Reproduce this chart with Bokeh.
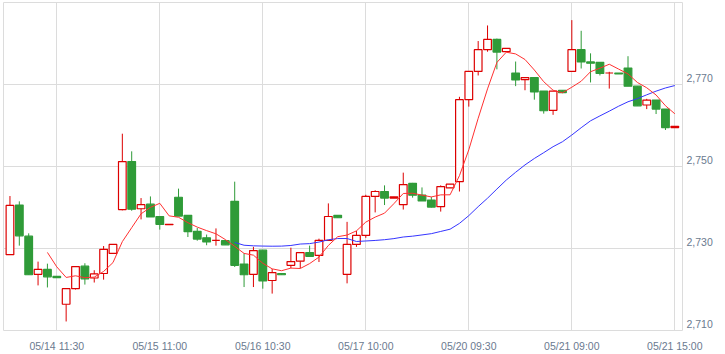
import pandas as pd
from bokeh.plotting import figure
from bokeh.models import (ColumnDataSource, FixedTicker, Range1d, LinearAxis,
                          NumeralTickFormatter)
from bokeh.embed import file_html
from bokeh.resources import INLINE

opens = [2728.5, 2740.6, 2733.0, 2723.7, 2724.9, 2723.2, 2716.4, 2720.2, 2725.7, 2722.8,
         2723.9, 2728.8, 2739.5, 2751.2, 2739.7, 2740.8, 2737.8, 2735.8, 2742.5, 2738.1,
         2734.2, 2732.6, 2732.0, 2731.9, 2741.5, 2726.2, 2723.7, 2729.6, 2722.2, 2723.9,
         2725.9, 2726.9, 2729.0, 2728.3, 2732.0, 2738.1, 2723.7, 2731.0, 2733.2, 2742.7,
         2743.9, 2742.3, 2740.7, 2745.9, 2743.0, 2741.8, 2740.2, 2744.8, 2746.3, 2766.3,
         2773.2, 2778.5, 2781.0, 2778.0, 2772.8, 2771.2, 2771.7, 2768.4, 2763.7, 2768.6,
         2773.2, 2778.5, 2775.5, 2775.4, 2772.8, 2772.8, 2774.0, 2769.6, 2765.0, 2766.2,
         2764.0, 2759.5]
highs = [2742.8, 2741.5, 2733.7, 2726.8, 2726.3, 2723.2, 2720.2, 2725.6, 2726.4, 2724.7,
         2730.6, 2731.0, 2758.0, 2753.7, 2742.3, 2742.7, 2737.8, 2735.9, 2744.6, 2738.1,
         2735.0, 2733.4, 2734.9, 2731.9, 2746.3, 2728.8, 2730.4, 2729.6, 2725.0, 2723.9,
         2730.2, 2729.0, 2730.7, 2732.4, 2741.0, 2738.1, 2736.5, 2734.3, 2743.1, 2744.2,
         2745.4, 2742.6, 2748.5, 2746.0, 2744.9, 2742.6, 2745.4, 2745.7, 2767.0, 2773.2,
         2780.6, 2784.4, 2781.2, 2778.8, 2775.6, 2771.7, 2771.7, 2768.4, 2768.4, 2768.6,
         2785.7, 2783.1, 2777.6, 2775.4, 2773.1, 2772.8, 2776.9, 2769.6, 2766.5, 2766.2,
         2764.0, 2759.8]
lows = [2728.5, 2730.7, 2723.6, 2721.0, 2720.5, 2722.9, 2712.2, 2720.0, 2721.2, 2721.7,
        2722.4, 2728.8, 2739.3, 2739.2, 2737.1, 2737.7, 2734.6, 2735.8, 2737.9, 2732.8,
        2731.9, 2730.8, 2730.7, 2730.9, 2725.5, 2720.6, 2720.6, 2720.2, 2719.0, 2723.6,
        2725.2, 2725.2, 2728.1, 2726.7, 2732.0, 2737.5, 2721.5, 2730.4, 2732.6, 2738.8,
        2740.6, 2742.3, 2739.5, 2742.4, 2741.6, 2740.0, 2739.0, 2744.8, 2743.9, 2764.6,
        2772.2, 2778.0, 2773.7, 2778.0, 2769.6, 2768.6, 2766.3, 2762.9, 2762.6, 2768.0,
        2773.2, 2773.9, 2770.5, 2772.2, 2769.0, 2772.6, 2769.6, 2764.8, 2764.0, 2762.8,
        2758.9, 2759.5]
closes = [2740.5, 2733.1, 2723.6, 2724.9, 2723.1, 2722.9, 2720.2, 2725.6, 2722.6, 2723.8,
          2729.8, 2731.0, 2751.2, 2739.6, 2740.7, 2737.7, 2735.9, 2735.9, 2737.9, 2734.1,
          2732.3, 2731.6, 2732.0, 2730.9, 2725.9, 2723.6, 2729.5, 2722.1, 2724.1, 2723.6,
          2726.8, 2729.0, 2728.1, 2732.0, 2737.8, 2737.5, 2731.0, 2733.2, 2742.7, 2743.9,
          2742.3, 2742.6, 2745.6, 2743.0, 2741.6, 2740.1, 2745.1, 2745.7, 2766.3, 2773.2,
          2778.5, 2781.0, 2777.9, 2778.8, 2771.1, 2771.7, 2768.2, 2763.6, 2768.4, 2768.0,
          2778.5, 2775.5, 2775.2, 2772.7, 2772.8, 2772.6, 2769.6, 2764.8, 2766.2, 2764.0,
          2759.5, 2759.8]

x_tick_idx = [5, 16, 27, 38, 49, 60, 71]
x_tick_labels = ["05/14 11:30", "05/15 11:00", "05/16 10:30", "05/17 10:00",
                 "05/20 09:30", "05/21 09:00", "05/21 15:00"]
y_grid_vals = [2710, 2730, 2750, 2770, 2790]
y_label_vals = [2710, 2730, 2750, 2770]

RED = "#dd0000"
GREEN = "#2f9b38"
TXT = "#6b7a8f"
GRID = "#dcdcdc"

Y0, Y1 = 2710, 2790
LABEL_SHIFT = 1.6  # labels sit just above their grid line

idx = list(range(len(opens)))
up = [c >= o for o, c in zip(opens, closes)]
src = ColumnDataSource(dict(
    x=idx, o=opens, h=highs, l=lows, c=closes,
    top=[max(o, c) for o, c in zip(opens, closes)],
    bot=[min(o, c) for o, c in zip(opens, closes)],
    col=[RED if u else GREEN for u in up],
    fill=["white" if u else GREEN for u in up],
))

ma5 = pd.Series(closes).rolling(5).mean().tolist()
ma25 = pd.Series(closes).rolling(25).mean().tolist()

p = figure(width=725, height=354, output_backend="svg", toolbar_location=None,
           x_range=Range1d(-0.69, 71.82), y_range=Range1d(Y0, Y1),
           y_axis_location="right",
           min_border_left=3, min_border_right=43, min_border_top=2, min_border_bottom=24)
p.background_fill_color = "white"
p.border_fill_color = "white"
p.outline_line_color = GRID
p.outline_line_width = 1

p.xgrid.ticker = FixedTicker(ticks=x_tick_idx)
p.ygrid.ticker = FixedTicker(ticks=y_grid_vals)
p.xgrid.grid_line_color = GRID
p.ygrid.grid_line_color = GRID

p.xaxis.ticker = FixedTicker(ticks=x_tick_idx)
p.xaxis.major_label_overrides = {i: s for i, s in zip(x_tick_idx, x_tick_labels)}
p.xaxis.axis_line_color = None
p.xaxis.major_tick_line_color = None
p.xaxis.minor_tick_line_color = None
p.xaxis.major_label_standoff = 3
p.xaxis.major_label_text_font = "Liberation Sans"
p.xaxis.major_label_text_font_size = "10.5px"
p.xaxis.major_label_text_color = TXT

p.yaxis.ticker = FixedTicker(ticks=y_grid_vals)
p.yaxis.visible = False

p.extra_y_ranges = {"lab": Range1d(Y0 - LABEL_SHIFT, Y1 - LABEL_SHIFT)}
yax = LinearAxis(y_range_name="lab", ticker=FixedTicker(ticks=y_label_vals),
                 formatter=NumeralTickFormatter(format="0,0"))
yax.axis_line_color = None
yax.major_tick_line_color = None
yax.minor_tick_line_color = None
yax.major_tick_out = 0
yax.major_tick_in = 0
yax.major_label_standoff = 4
yax.major_label_text_font = "Liberation Sans"
yax.major_label_text_font_size = "10.5px"
yax.major_label_text_color = TXT
p.add_layout(yax, "right")

p.segment(x0="x", y0="h", x1="x", y1="l", source=src, line_color="col", line_width=1)
p.vbar(x="x", width=0.82, top="top", bottom="bot", source=src,
       fill_color="fill", line_color="col", line_width=1.2)

p.line(idx, ma25, line_color="#3535ff", line_width=1)
p.line(idx, ma5, line_color="#ff3030", line_width=1)

open("out.html", "w").write(file_html(p, INLINE))
